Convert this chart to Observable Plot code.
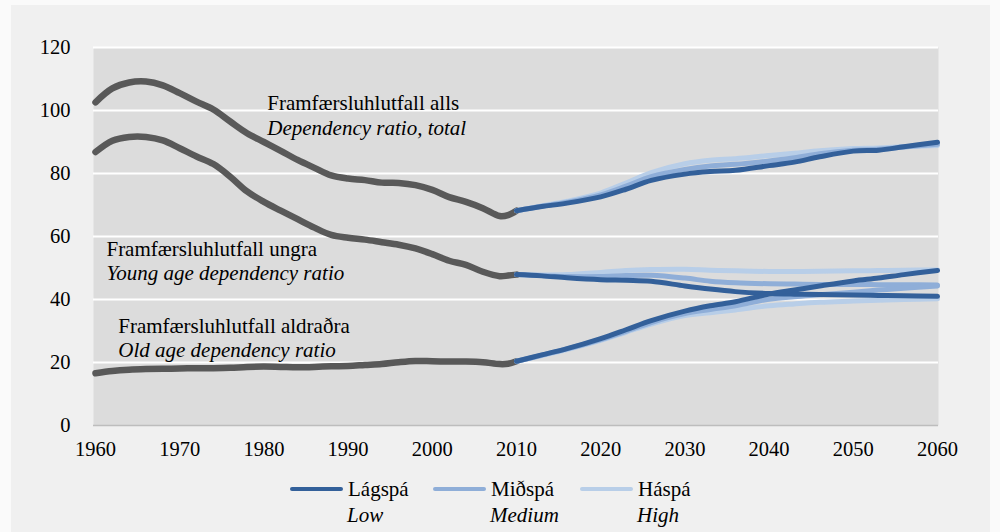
<!DOCTYPE html>
<html>
<head>
<meta charset="utf-8">
<script src="https://cdn.jsdelivr.net/npm/d3@7"></script>
<script src="https://cdn.jsdelivr.net/npm/@observablehq/plot@0.6"></script>
<style>
  html, body { margin: 0; padding: 0; background: #fafafa; width: 1000px; height: 532px; overflow: hidden; }
  #panel { position: absolute; left: 11px; top: 5px; width: 979px; height: 527px; background: #f0f0f0; }
  #chart { position: absolute; left: 0; top: 0; }
  #legend { position: absolute; left: 0; top: 465px; width: 1000px; height: 67px; font-size: 21px; color: #000; }
  .item { position: absolute; top: 0; height: 67px; }
  .sw { position: absolute; left: 0; top: 22px; width: 53px; height: 4px; border-radius: 2px; }
  .l1 { position: absolute; left: 58px; top: 11px; white-space: nowrap; line-height: 26px; }
  .l2 { position: absolute; left: 57px; top: 37px; white-space: nowrap; line-height: 26px; font-style: italic; }
</style>
</head>
<body>
<div id="panel"></div>
<div id="chart"></div>
<div id="legend"></div>
<script>
// ---------- data ----------
const histYears = [1960,1962,1964,1966,1968,1970,1972,1974,1976,1978,1980,1982,1984,1986,1988,1990,1992,1994,1996,1998,2000,2002,2004,2006,2008,2009,2010];
const histTotal = [102.6,107.0,108.9,109.2,108.0,105.5,102.8,100.3,96.5,92.8,90.0,87.2,84.3,81.8,79.4,78.4,77.9,77.1,77.0,76.3,74.8,72.5,71.0,69.0,66.5,66.8,68.2];
const histYoung = [86.8,90.4,91.6,91.6,90.5,88.0,85.4,83.0,79.0,74.3,71.0,68.2,65.5,62.8,60.5,59.6,59.0,58.2,57.4,56.2,54.4,52.3,51.0,48.8,47.4,47.6,47.9];
const histOld   = [16.6,17.3,17.7,17.9,18.0,18.1,18.2,18.2,18.3,18.6,18.7,18.6,18.5,18.6,18.8,18.9,19.2,19.5,20.1,20.5,20.4,20.3,20.3,20.1,19.5,19.6,20.4];

const projYears = [2010,2013,2016,2020,2023,2026,2030,2033,2036,2040,2043,2046,2050,2053,2056,2060];
const totalLow  = [68.2,69.5,70.6,72.6,75.0,77.8,79.8,80.6,81.0,82.5,83.6,85.3,87.1,87.4,88.5,89.9];
const totalMed  = [68.2,69.6,70.9,73.2,76.0,79.0,81.3,82.4,82.9,84.0,85.0,86.3,87.4,87.7,88.4,89.3];
const totalHigh = [68.2,69.7,71.2,73.8,77.0,80.3,83.1,84.2,84.7,85.7,86.4,87.2,87.9,88.1,88.5,88.9];
const youngLow  = [47.9,47.5,46.9,46.3,46.1,45.8,44.3,43.3,42.5,41.9,41.7,41.6,41.4,41.3,41.2,41.0];
const youngMed  = [47.9,47.6,47.3,47.3,47.6,47.7,46.8,45.8,45.3,45.0,44.9,44.8,44.8,44.7,44.7,44.6];
const youngHigh = [47.9,47.8,47.9,48.6,49.2,49.5,49.6,49.3,49.1,48.9,48.9,49.0,49.1,49.2,49.3,49.4];
const oldLow    = [20.4,22.4,24.4,27.6,30.4,33.3,36.3,38.0,39.3,41.7,43.0,44.3,45.9,46.8,47.9,49.2];
const oldMed    = [20.4,22.3,24.3,27.3,29.9,32.7,35.5,36.8,38.0,40.1,40.9,41.5,42.3,43.0,43.6,44.3];
const oldHigh   = [20.4,22.2,24.1,27.0,29.6,32.2,34.9,35.8,36.7,38.0,38.6,39.1,39.5,39.8,40.0,40.2];

const scenarioNames   = ["Lágspá", "Miðspá", "Háspá"];
const scenarioEnglish = ["Low", "Medium", "High"];
const scenarioColors  = ["#33609a", "#8faed8", "#b8cee8"];

const xTicks = [1960,1970,1980,1990,2000,2010,2020,2030,2040,2050,2060];
const yTicks = [0,20,40,60,80,100,120];

const labelLines = [
  {year: 1980.4, value: 102.2, text: "Framfærsluhlutfall alls", italic: false},
  {year: 1980.4, value: 94.3,  text: "Dependency ratio, total", italic: true},
  {year: 1961.3, value: 55.9,  text: "Framfærsluhlutfall ungra", italic: false},
  {year: 1961.3, value: 48.2,  text: "Young age dependency ratio", italic: true},
  {year: 1962.7, value: 31.6,  text: "Framfærsluhlutfall aldraðra", italic: false},
  {year: 1962.7, value: 23.8,  text: "Old age dependency ratio", italic: true}
];

const SERIF = "'Liberation Serif', serif";

// ---------- build tables ----------
const hist = [];
[["total", histTotal], ["young", histYoung], ["old", histOld]].forEach(([s, vals]) =>
  histYears.forEach((y, i) => hist.push({series: s, year: y, value: vals[i]})));

const projSets = {
  "Lágspá": [["total", totalLow], ["young", youngLow], ["old", oldLow]],
  "Miðspá": [["total", totalMed], ["young", youngMed], ["old", oldMed]],
  "Háspá":  [["total", totalHigh], ["young", youngHigh], ["old", oldHigh]]
};
const proj = {};
for (const sc of scenarioNames) {
  proj[sc] = [];
  projSets[sc].forEach(([s, vals]) =>
    projYears.forEach((y, i) => proj[sc].push({series: s, year: y, value: vals[i]})));
}

const lineMarks = [];
// draw High first, then Medium, then Low on top
[2, 1, 0].forEach(i => {
  lineMarks.push(Plot.line(proj[scenarioNames[i]], {
    x: "year", y: "value", z: "series",
    stroke: scenarioColors[i], strokeWidth: 5, curve: "catmull-rom"
  }));
});

const chart = Plot.plot({
  width: 1000,
  height: 465,
  marginLeft: 95,
  marginRight: 63,
  marginTop: 47,
  marginBottom: 40,
  style: {background: "transparent", fontSize: "20.5px", color: "#000", overflow: "visible"},
  x: {domain: [1960, 2060], ticks: xTicks, tickFormat: d => String(d), tickSize: 0, tickPadding: 16, label: null},
  y: {domain: [0, 120], ticks: yTicks, tickSize: 0, tickPadding: 25, label: null},
  marks: [
    Plot.frame({fill: "#dcdcdc", stroke: "none", insetLeft: -2, insetRight: -1}),
    Plot.gridY(yTicks.filter(d => d > 0), {stroke: "#ffffff", strokeOpacity: 1, strokeWidth: 2, insetLeft: -2, insetRight: -1}),
    Plot.ruleY([0], {stroke: "#bdbdbd", strokeWidth: 1.5, insetLeft: -2, insetRight: -1}),
    Plot.line(hist, {x: "year", y: "value", z: "series", stroke: "#595959", strokeWidth: 6.5, curve: "catmull-rom"}),
    ...lineMarks,
    Plot.text(labelLines.filter(d => !d.italic), {x: "year", y: "value", text: "text", textAnchor: "start", fontSize: 21, fill: "#000"}),
    Plot.text(labelLines.filter(d => d.italic), {x: "year", y: "value", text: "text", textAnchor: "start", fontSize: 21, fontStyle: "italic", fill: "#000"})
  ]
});
chart.setAttribute("font-family", SERIF);
chart.style.fontFamily = SERIF;
chart.querySelectorAll("g, text").forEach(el => {
  if (el.hasAttribute("font-family")) el.setAttribute("font-family", SERIF);
  if (el.tagName.toLowerCase() === "text") el.style.fontFamily = SERIF;
});
document.getElementById("chart").appendChild(chart);

// ---------- legend ----------
const legendLeft = [290, 433, 580];
const legend = document.getElementById("legend");
legend.style.fontFamily = SERIF;
scenarioNames.forEach((name, i) => {
  const item = document.createElement("div");
  item.className = "item";
  item.style.left = legendLeft[i] + "px";
  const sw = document.createElement("div");
  sw.className = "sw";
  sw.style.background = scenarioColors[i];
  const l1 = document.createElement("div");
  l1.className = "l1";
  l1.style.fontFamily = SERIF;
  l1.textContent = name;
  const l2 = document.createElement("div");
  l2.className = "l2";
  l2.style.fontFamily = SERIF;
  l2.textContent = scenarioEnglish[i];
  item.append(sw, l1, l2);
  legend.appendChild(item);
});
</script>
</body>
</html>
